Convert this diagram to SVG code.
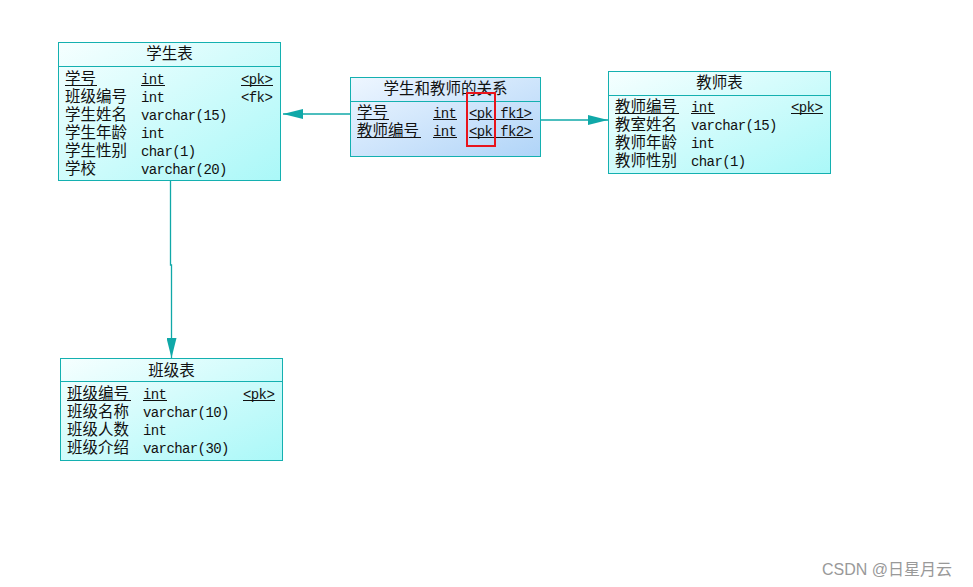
<svg xmlns="http://www.w3.org/2000/svg" width="973" height="587" viewBox="0 0 973 587">
<defs>
<linearGradient id="gc" x1="0" y1="0" x2="1" y2="1">
<stop offset="0" stop-color="#f6ffff"/>
<stop offset="1" stop-color="#aaf8f8"/>
</linearGradient>
<linearGradient id="gb" x1="0" y1="0" x2="1" y2="1">
<stop offset="0" stop-color="#eef6ff"/>
<stop offset="1" stop-color="#b0d4f8"/>
</linearGradient>
<marker id="ah" markerWidth="20" markerHeight="10" refX="20" refY="5" orient="auto" markerUnits="userSpaceOnUse">
<path d="M0,0 L20,5 L0,10 Z" fill="#10a8a8"/>
</marker>
<style>
.box{stroke:#14b0b0;stroke-width:1}
.sep{stroke:#14b0b0;stroke-width:1}
.cn{font-family:"Noto Sans CJK SC","Liberation Sans",sans-serif;font-size:15.5px;fill:#111}
.mono{font-family:"Liberation Mono","DejaVu Sans Mono",monospace;font-size:14px;letter-spacing:-0.6px;fill:#111}
.title{font-family:"Noto Sans CJK SC","Liberation Sans",sans-serif;font-size:15.5px;fill:#111;text-anchor:middle}
.ul{stroke:#111;stroke-width:1}
.conn{stroke:#10a8a8;stroke-width:1.3;fill:none}
</style>
</defs>
<rect width="973" height="587" fill="#ffffff"/>

<g id="connectors">
<path class="conn" d="M350,114 L283,114" marker-end="url(#ah)"/>
<path class="conn" d="M541,120 L608,120" marker-end="url(#ah)"/>
<path class="conn" d="M170.5,181 L170.5,265 L171.5,265 L171.5,358" marker-end="url(#ah)"/>
</g>

<g id="student">
<rect class="box" x="58.5" y="42.5" width="222" height="138" fill="url(#gc)"/>
<line class="sep" x1="58.5" y1="66.5" x2="280.5" y2="66.5"/>
<text class="title" x="169.5" y="59">学生表</text>
<text class="cn" x="65" y="84">学号</text>
<text class="mono" x="141" y="84">int</text>
<text class="mono" x="241" y="84">&lt;pk&gt;</text>
<line class="ul" x1="65" y1="85.5" x2="97" y2="85.5"/>
<line class="ul" x1="141" y1="85.5" x2="165" y2="85.5"/>
<line class="ul" x1="241" y1="85.5" x2="273" y2="85.5"/>
<text class="cn" x="65" y="102">班级编号</text>
<text class="mono" x="141" y="102">int</text>
<text class="mono" x="241" y="102">&lt;fk&gt;</text>
<text class="cn" x="65" y="120">学生姓名</text>
<text class="mono" x="141" y="120">varchar(15)</text>
<text class="cn" x="65" y="138">学生年龄</text>
<text class="mono" x="141" y="138">int</text>
<text class="cn" x="65" y="156">学生性别</text>
<text class="mono" x="141" y="156">char(1)</text>
<text class="cn" x="65" y="174">学校</text>
<text class="mono" x="141" y="174">varchar(20)</text>
</g>

<g id="relation">
<rect class="box" x="350.5" y="77.5" width="190" height="79" fill="url(#gb)"/>
<line class="sep" x1="350.5" y1="101.5" x2="540.5" y2="101.5"/>
<text class="title" x="445.5" y="94">学生和教师的关系</text>
<text class="cn" x="357" y="118">学号</text>
<text class="mono" x="433" y="118">int</text>
<text class="mono" x="469" y="118">&lt;pk fk1&gt;</text>
<line class="ul" x1="357" y1="119.5" x2="389" y2="119.5"/>
<line class="ul" x1="433" y1="119.5" x2="457" y2="119.5"/>
<line class="ul" x1="469" y1="119.5" x2="533" y2="119.5"/>
<text class="cn" x="357" y="136">教师编号</text>
<text class="mono" x="433" y="136">int</text>
<text class="mono" x="469" y="136">&lt;pk fk2&gt;</text>
<line class="ul" x1="357" y1="137.5" x2="421" y2="137.5"/>
<line class="ul" x1="433" y1="137.5" x2="457" y2="137.5"/>
<line class="ul" x1="469" y1="137.5" x2="533" y2="137.5"/>
</g>

<g id="teacher">
<rect class="box" x="608.5" y="71.5" width="222" height="102" fill="url(#gc)"/>
<line class="sep" x1="608.5" y1="95.5" x2="830.5" y2="95.5"/>
<text class="title" x="719.5" y="88">教师表</text>
<text class="cn" x="615" y="112">教师编号</text>
<text class="mono" x="691" y="112">int</text>
<text class="mono" x="791" y="112">&lt;pk&gt;</text>
<line class="ul" x1="615" y1="113.5" x2="679" y2="113.5"/>
<line class="ul" x1="691" y1="113.5" x2="715" y2="113.5"/>
<line class="ul" x1="791" y1="113.5" x2="823" y2="113.5"/>
<text class="cn" x="615" y="130">教室姓名</text>
<text class="mono" x="691" y="130">varchar(15)</text>
<text class="cn" x="615" y="148">教师年龄</text>
<text class="mono" x="691" y="148">int</text>
<text class="cn" x="615" y="166">教师性别</text>
<text class="mono" x="691" y="166">char(1)</text>
</g>

<g id="class">
<rect class="box" x="60.5" y="358.5" width="222" height="102" fill="url(#gc)"/>
<line class="sep" x1="60.5" y1="381.5" x2="282.5" y2="381.5"/>
<text class="title" x="171.5" y="376">班级表</text>
<text class="cn" x="67" y="399">班级编号</text>
<text class="mono" x="143" y="399">int</text>
<text class="mono" x="243" y="399">&lt;pk&gt;</text>
<line class="ul" x1="67" y1="400.5" x2="131" y2="400.5"/>
<line class="ul" x1="143" y1="400.5" x2="167" y2="400.5"/>
<line class="ul" x1="243" y1="400.5" x2="275" y2="400.5"/>
<text class="cn" x="67" y="417">班级名称</text>
<text class="mono" x="143" y="417">varchar(10)</text>
<text class="cn" x="67" y="435">班级人数</text>
<text class="mono" x="143" y="435">int</text>
<text class="cn" x="67" y="453">班级介绍</text>
<text class="mono" x="143" y="453">varchar(30)</text>
</g>

<rect id="highlight" x="467" y="93" width="28" height="53" fill="none" stroke="#e8141c" stroke-width="2"/>

<text x="822" y="575" font-family="'Liberation Sans','Noto Sans CJK SC',sans-serif" font-size="16" fill="#999999">CSDN @日星月云</text>
</svg>
